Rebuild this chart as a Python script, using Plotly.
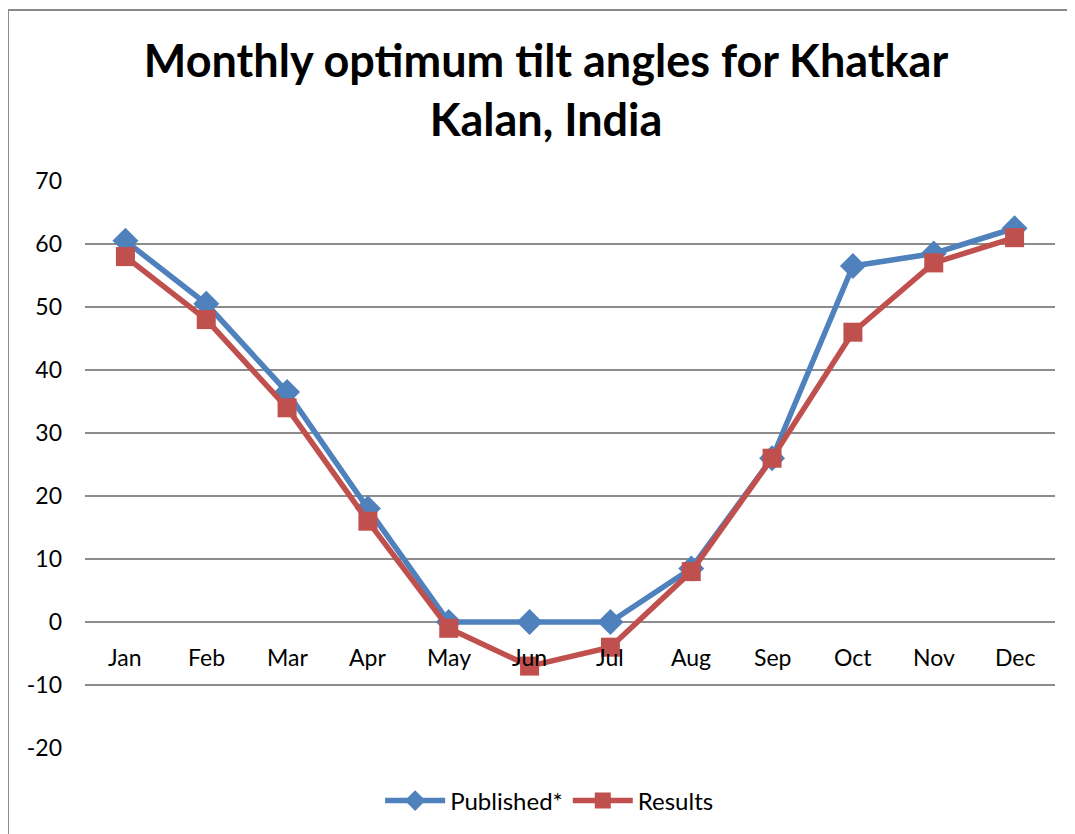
import plotly.graph_objects as go

months = ["Jan", "Feb", "Mar", "Apr", "May", "Jun", "Jul", "Aug", "Sep", "Oct", "Nov", "Dec"]
published = [60.5, 50.5, 36.5, 18, 0, 0, 0, 8.5, 26, 56.5, 58.5, 62.5]
results = [58, 48, 34, 16, -1, -7, -4, 8, 26, 46, 57, 61]
y_ticks = [-20, -10, 0, 10, 20, 30, 40, 50, 60, 70]
y_tick_labels = ["-20", "-10", "0", "10", "20", "30", "40", "50", "60", "70"]

font_name = "Lato"
blue = "#4F81BD"
red = "#C0504D"
grid = "#8C8C8C"

fig = go.Figure()

fig.add_trace(go.Scatter(
    x=months, y=published, name="Published*",
    mode="lines+markers",
    line=dict(color=blue, width=5.5),
    marker=dict(symbol="diamond", size=20, color=blue),
))
fig.add_trace(go.Scatter(
    x=months, y=results, name="Results",
    mode="lines+markers",
    line=dict(color=red, width=5.5),
    marker=dict(symbol="square", size=19, color=red),
))

# month labels sit just under the zero line, Excel style
for m in months:
    fig.add_annotation(x=m, y=0, xref="x", yref="y", text=m, showarrow=False,
                       yanchor="middle", yshift=-35,
                       font=dict(family=font_name, size=23, color="#000000"))

# chart border (left and top visible)
fig.add_shape(type="line", xref="paper", yref="paper",
              x0=-0.0794, y0=-0.2, x1=-0.0794, y1=1.3016,
              line=dict(color="#8A8A8A", width=2))
fig.add_shape(type="line", xref="paper", yref="paper",
              x0=-0.0794, y0=1.3016, x1=1.05, y1=1.3016,
              line=dict(color="#8A8A8A", width=2))

fig.update_layout(
    width=1075, height=834,
    margin=dict(l=77, r=28, t=173, b=94),
    paper_bgcolor="white", plot_bgcolor="white",
    font=dict(family=font_name, size=23, color="#000000"),
    title=dict(
        text="<b>Monthly optimum tilt angles for Khatkar<br>Kalan, India</b>",
        x=0.5005, xanchor="center", xref="container",
        y=0.917, yanchor="middle", yref="container",
        font=dict(family=font_name, size=45, color="#000000"),
    ),
    xaxis=dict(showticklabels=False, showgrid=False, zeroline=False,
               showline=False, ticks="", range=[-0.5, 11.5]),
    yaxis=dict(range=[-20, 70], tickvals=y_ticks, ticktext=y_tick_labels,
               showgrid=True, gridcolor=grid, gridwidth=2, zeroline=False,
               showline=False, ticks="", ticklabelstandoff=22,
               tickfont=dict(family=font_name, size=23)),
    legend=dict(orientation="h", x=0.479, xanchor="center", y=-0.0935,
                yanchor="middle", font=dict(family=font_name, size=24),
                itemwidth=60),
    showlegend=True,
)

fig.write_html("out.html")
